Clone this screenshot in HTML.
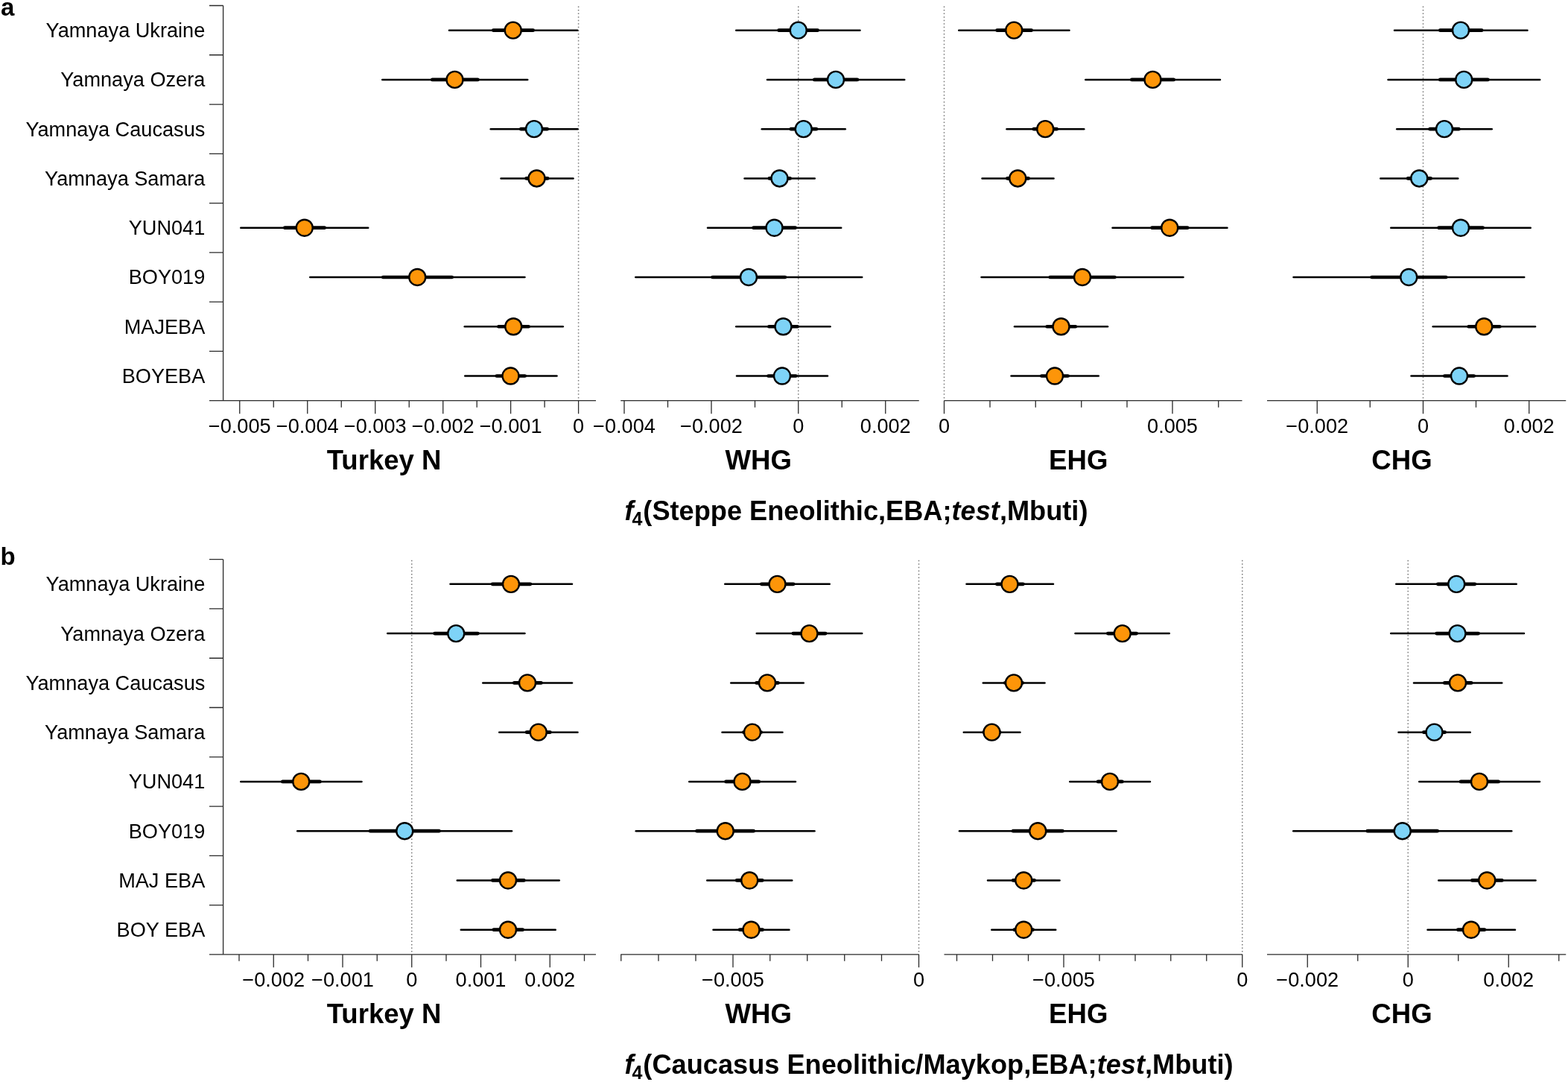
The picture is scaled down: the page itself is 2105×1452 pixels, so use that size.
<!DOCTYPE html>
<html lang="en"><head><meta charset="utf-8"><title>f4 statistics</title>
<style>html,body{margin:0;padding:0;background:#fff}svg{display:block}text{font-family:"Liberation Sans",Arial,Helvetica,sans-serif;fill:#000}.yl{font-size:27.15px;text-anchor:end}.tl{font-size:27.15px;text-anchor:middle}.pt{font-size:36.6px;font-weight:bold;text-anchor:middle}.tt{font-size:36.2px;font-weight:bold}.lt{font-size:33px;font-weight:bold}.ax{stroke:#2a2a2a;stroke-width:1.3;fill:none}.dot{stroke:#777;stroke-width:1.5;stroke-dasharray:1.5 3.06;fill:none}.tn{stroke:#000;stroke-width:2.5;stroke-linecap:round}.tk{stroke:#000;stroke-width:4.7;stroke-linecap:round}.c{stroke:#000;stroke-width:2.4}</style></head><body>
<svg width="2105" height="1452" viewBox="0 0 2105 1452">
<rect width="2105" height="1452" fill="#fff"/>
<g id="panel-a">
<text class="lt" x="1" y="20.6">a</text>
<path class="ax" d="M299.6 7.50V537.66M281 7.50H299.6M281 73.77H299.6M281 140.04H299.6M281 206.31H299.6M281 272.58H299.6M281 338.85H299.6M281 405.12H299.6M281 471.39H299.6"/>
<text class="yl" x="275.3" y="50.13">Yamnaya Ukraine</text>
<text class="yl" x="275.3" y="116.41">Yamnaya Ozera</text>
<text class="yl" x="275.3" y="182.67">Yamnaya Caucasus</text>
<text class="yl" x="275.3" y="248.94">Yamnaya Samara</text>
<text class="yl" x="275.3" y="315.21">YUN041</text>
<text class="yl" x="275.3" y="381.48">BOY019</text>
<text class="yl" x="275.3" y="447.75">MAJEBA</text>
<text class="yl" x="275.3" y="514.02">BOYEBA</text>
<line class="dot" x1="776.6" y1="8.50" x2="776.6" y2="537.66"/>
<path class="ax" d="M281 537.66H800M321.75 537.66v17.5M412.75 537.66v17.5M503.75 537.66v17.5M594.75 537.66v17.5M685.6 537.66v17.5M776.6 537.66v17.5M367.25 537.66v9M458.25 537.66v9M549.25 537.66v9M640.2 537.66v9M731.1 537.66v9"/>
<text class="tl" x="321.75" y="580.66">−0.005</text>
<text class="tl" x="412.75" y="580.66">−0.004</text>
<text class="tl" x="503.75" y="580.66">−0.003</text>
<text class="tl" x="594.75" y="580.66">−0.002</text>
<text class="tl" x="685.6" y="580.66">−0.001</text>
<text class="tl" x="776.6" y="580.66">0</text>
<text class="pt" x="515.6" y="629.96">Turkey N</text>
<line class="tn" x1="603.00" y1="40.63" x2="775.25" y2="40.63"/>
<line class="tk" x1="662.35" y1="40.63" x2="715.65" y2="40.63"/>
<circle class="c" cx="688.75" cy="40.63" r="11" fill="#FD9509"/>
<line class="tn" x1="513.25" y1="106.91" x2="708.25" y2="106.91"/>
<line class="tk" x1="580.35" y1="106.91" x2="641.40" y2="106.91"/>
<circle class="c" cx="610.50" cy="106.91" r="11" fill="#FD9509"/>
<line class="tn" x1="658.75" y1="173.17" x2="775.50" y2="173.17"/>
<line class="tk" x1="699.35" y1="173.17" x2="734.65" y2="173.17"/>
<circle class="c" cx="717.00" cy="173.17" r="11" fill="#7ED3F7"/>
<line class="tn" x1="672.50" y1="239.44" x2="769.50" y2="239.44"/>
<line class="tk" x1="706.60" y1="239.44" x2="735.15" y2="239.44"/>
<circle class="c" cx="720.50" cy="239.44" r="11" fill="#FD9509"/>
<line class="tn" x1="323.25" y1="305.71" x2="494.25" y2="305.71"/>
<line class="tk" x1="382.35" y1="305.71" x2="435.65" y2="305.71"/>
<circle class="c" cx="408.75" cy="305.71" r="11" fill="#FD9509"/>
<line class="tn" x1="416.25" y1="371.98" x2="704.50" y2="371.98"/>
<line class="tk" x1="514.35" y1="371.98" x2="606.65" y2="371.98"/>
<circle class="c" cx="560.25" cy="371.98" r="11" fill="#FD9509"/>
<line class="tn" x1="623.75" y1="438.25" x2="755.75" y2="438.25"/>
<line class="tk" x1="669.35" y1="438.25" x2="709.65" y2="438.25"/>
<circle class="c" cx="689.25" cy="438.25" r="11" fill="#FD9509"/>
<line class="tn" x1="624.25" y1="504.52" x2="747.50" y2="504.52"/>
<line class="tk" x1="666.85" y1="504.52" x2="704.65" y2="504.52"/>
<circle class="c" cx="685.50" cy="504.52" r="11" fill="#FD9509"/>
<line class="dot" x1="1071.75" y1="8.50" x2="1071.75" y2="537.66"/>
<path class="ax" d="M833.25 537.66H1233.75M838 537.66v17.5M955 537.66v17.5M1071.75 537.66v17.5M1188.75 537.66v17.5M896.5 537.66v9M1013.5 537.66v9M1130.25 537.66v9"/>
<text class="tl" x="838" y="580.66">−0.004</text>
<text class="tl" x="955" y="580.66">−0.002</text>
<text class="tl" x="1071.75" y="580.66">0</text>
<text class="tl" x="1188.75" y="580.66">0.002</text>
<text class="pt" x="1018.3" y="629.96">WHG</text>
<line class="tn" x1="988.25" y1="40.63" x2="1154.50" y2="40.63"/>
<line class="tk" x1="1045.60" y1="40.63" x2="1097.65" y2="40.63"/>
<circle class="c" cx="1071.75" cy="40.63" r="11" fill="#7ED3F7"/>
<line class="tn" x1="1030.00" y1="106.91" x2="1214.25" y2="106.91"/>
<line class="tk" x1="1093.35" y1="106.91" x2="1150.90" y2="106.91"/>
<circle class="c" cx="1122.00" cy="106.91" r="11" fill="#7ED3F7"/>
<line class="tn" x1="1022.75" y1="173.17" x2="1134.75" y2="173.17"/>
<line class="tk" x1="1061.85" y1="173.17" x2="1095.90" y2="173.17"/>
<circle class="c" cx="1078.75" cy="173.17" r="11" fill="#7ED3F7"/>
<line class="tn" x1="999.50" y1="239.44" x2="1093.75" y2="239.44"/>
<line class="tk" x1="1032.85" y1="239.44" x2="1060.65" y2="239.44"/>
<circle class="c" cx="1046.50" cy="239.44" r="11" fill="#7ED3F7"/>
<line class="tn" x1="950.00" y1="305.71" x2="1129.25" y2="305.71"/>
<line class="tk" x1="1011.60" y1="305.71" x2="1067.65" y2="305.71"/>
<circle class="c" cx="1039.50" cy="305.71" r="11" fill="#7ED3F7"/>
<line class="tn" x1="853.25" y1="371.98" x2="1157.25" y2="371.98"/>
<line class="tk" x1="956.60" y1="371.98" x2="1053.90" y2="371.98"/>
<circle class="c" cx="1005.00" cy="371.98" r="11" fill="#7ED3F7"/>
<line class="tn" x1="988.25" y1="438.25" x2="1114.50" y2="438.25"/>
<line class="tk" x1="1032.35" y1="438.25" x2="1070.65" y2="438.25"/>
<circle class="c" cx="1051.50" cy="438.25" r="11" fill="#7ED3F7"/>
<line class="tn" x1="989.00" y1="504.52" x2="1111.00" y2="504.52"/>
<line class="tk" x1="1031.60" y1="504.52" x2="1068.40" y2="504.52"/>
<circle class="c" cx="1050.00" cy="504.52" r="11" fill="#7ED3F7"/>
<line class="dot" x1="1267.5" y1="8.50" x2="1267.5" y2="537.66"/>
<path class="ax" d="M1267.5 537.66H1667.5M1267.5 537.66v17.5M1574 537.66v17.5M1329 537.66v9M1390.25 537.66v9M1451.75 537.66v9M1513 537.66v9M1635.75 537.66v9"/>
<text class="tl" x="1267.5" y="580.66">0</text>
<text class="tl" x="1574" y="580.66">0.005</text>
<text class="pt" x="1447.75" y="629.96">EHG</text>
<line class="tn" x1="1287.25" y1="40.63" x2="1435.50" y2="40.63"/>
<line class="tk" x1="1338.60" y1="40.63" x2="1384.65" y2="40.63"/>
<circle class="c" cx="1361.25" cy="40.63" r="11" fill="#FD9509"/>
<line class="tn" x1="1457.25" y1="106.91" x2="1638.00" y2="106.91"/>
<line class="tk" x1="1519.35" y1="106.91" x2="1575.65" y2="106.91"/>
<circle class="c" cx="1547.50" cy="106.91" r="11" fill="#FD9509"/>
<line class="tn" x1="1351.50" y1="173.17" x2="1455.25" y2="173.17"/>
<line class="tk" x1="1387.85" y1="173.17" x2="1418.65" y2="173.17"/>
<circle class="c" cx="1403.25" cy="173.17" r="11" fill="#FD9509"/>
<line class="tn" x1="1318.50" y1="239.44" x2="1414.50" y2="239.44"/>
<line class="tk" x1="1352.35" y1="239.44" x2="1380.65" y2="239.44"/>
<circle class="c" cx="1366.25" cy="239.44" r="11" fill="#FD9509"/>
<line class="tn" x1="1493.50" y1="305.71" x2="1647.50" y2="305.71"/>
<line class="tk" x1="1546.60" y1="305.71" x2="1594.15" y2="305.71"/>
<circle class="c" cx="1570.25" cy="305.71" r="11" fill="#FD9509"/>
<line class="tn" x1="1317.50" y1="371.98" x2="1588.50" y2="371.98"/>
<line class="tk" x1="1409.85" y1="371.98" x2="1496.40" y2="371.98"/>
<circle class="c" cx="1453.00" cy="371.98" r="11" fill="#FD9509"/>
<line class="tn" x1="1362.00" y1="438.25" x2="1487.00" y2="438.25"/>
<line class="tk" x1="1405.60" y1="438.25" x2="1443.90" y2="438.25"/>
<circle class="c" cx="1424.50" cy="438.25" r="11" fill="#FD9509"/>
<line class="tn" x1="1357.50" y1="504.52" x2="1474.75" y2="504.52"/>
<line class="tk" x1="1398.35" y1="504.52" x2="1433.65" y2="504.52"/>
<circle class="c" cx="1416.00" cy="504.52" r="11" fill="#FD9509"/>
<line class="dot" x1="1910.5" y1="8.50" x2="1910.5" y2="537.66"/>
<path class="ax" d="M1701 537.66H2102.25M1768.25 537.66v17.5M1910.5 537.66v17.5M2052.75 537.66v17.5M1839.25 537.66v9M1981.5 537.66v9"/>
<text class="tl" x="1768.25" y="580.66">−0.002</text>
<text class="tl" x="1910.5" y="580.66">0</text>
<text class="tl" x="2052.75" y="580.66">0.002</text>
<text class="pt" x="1882" y="629.96">CHG</text>
<line class="tn" x1="1872.00" y1="40.63" x2="2050.50" y2="40.63"/>
<line class="tk" x1="1933.35" y1="40.63" x2="1989.15" y2="40.63"/>
<circle class="c" cx="1961.00" cy="40.63" r="11" fill="#7ED3F7"/>
<line class="tn" x1="1863.50" y1="106.91" x2="2067.25" y2="106.91"/>
<line class="tk" x1="1933.35" y1="106.91" x2="1997.40" y2="106.91"/>
<circle class="c" cx="1965.25" cy="106.91" r="11" fill="#7ED3F7"/>
<line class="tn" x1="1875.25" y1="173.17" x2="2002.75" y2="173.17"/>
<line class="tk" x1="1919.60" y1="173.17" x2="1958.40" y2="173.17"/>
<circle class="c" cx="1939.00" cy="173.17" r="11" fill="#7ED3F7"/>
<line class="tn" x1="1853.25" y1="239.44" x2="1957.25" y2="239.44"/>
<line class="tk" x1="1890.10" y1="239.44" x2="1920.65" y2="239.44"/>
<circle class="c" cx="1905.25" cy="239.44" r="11" fill="#7ED3F7"/>
<line class="tn" x1="1867.25" y1="305.71" x2="2054.75" y2="305.71"/>
<line class="tk" x1="1931.60" y1="305.71" x2="1990.65" y2="305.71"/>
<circle class="c" cx="1961.00" cy="305.71" r="11" fill="#7ED3F7"/>
<line class="tn" x1="1736.50" y1="371.98" x2="2046.25" y2="371.98"/>
<line class="tk" x1="1841.60" y1="371.98" x2="1941.15" y2="371.98"/>
<circle class="c" cx="1891.25" cy="371.98" r="11" fill="#7ED3F7"/>
<line class="tn" x1="1923.75" y1="438.25" x2="2061.00" y2="438.25"/>
<line class="tk" x1="1971.60" y1="438.25" x2="2013.40" y2="438.25"/>
<circle class="c" cx="1992.25" cy="438.25" r="11" fill="#FD9509"/>
<line class="tn" x1="1894.50" y1="504.52" x2="2023.50" y2="504.52"/>
<line class="tk" x1="1939.35" y1="504.52" x2="1978.65" y2="504.52"/>
<circle class="c" cx="1959.00" cy="504.52" r="11" fill="#7ED3F7"/>
<text class="tt" x="838.6" y="697.60"><tspan font-style="italic">f</tspan><tspan font-size="25" dx="-2.2" dy="7.8">4</tspan><tspan dx="1" dy="-7.8">(Steppe Eneolithic,EBA;</tspan><tspan font-style="italic">test</tspan><tspan>,Mbuti)</tspan></text>
</g>
<g id="panel-b">
<text class="lt" x="0.5" y="757.6">b</text>
<path class="ax" d="M299.6 750.70V1280.86M281 750.70H299.6M281 816.97H299.6M281 883.24H299.6M281 949.51H299.6M281 1015.78H299.6M281 1082.05H299.6M281 1148.32H299.6M281 1214.59H299.6"/>
<text class="yl" x="275.3" y="793.34">Yamnaya Ukraine</text>
<text class="yl" x="275.3" y="859.61">Yamnaya Ozera</text>
<text class="yl" x="275.3" y="925.88">Yamnaya Caucasus</text>
<text class="yl" x="275.3" y="992.14">Yamnaya Samara</text>
<text class="yl" x="275.3" y="1058.41">YUN041</text>
<text class="yl" x="275.3" y="1124.68">BOY019</text>
<text class="yl" x="275.3" y="1190.95">MAJ EBA</text>
<text class="yl" x="275.3" y="1257.22">BOY EBA</text>
<line class="dot" x1="552.75" y1="751.70" x2="552.75" y2="1280.86"/>
<path class="ax" d="M281 1280.86H800M367.25 1280.86v17.5M460 1280.86v17.5M552.75 1280.86v17.5M645.5 1280.86v17.5M738.25 1280.86v17.5M321 1280.86v9M413.5 1280.86v9M506.25 1280.86v9M599 1280.86v9M692 1280.86v9M784.5 1280.86v9"/>
<text class="tl" x="367.25" y="1323.86">−0.002</text>
<text class="tl" x="460" y="1323.86">−0.001</text>
<text class="tl" x="552.75" y="1323.86">0</text>
<text class="tl" x="645.5" y="1323.86">0.001</text>
<text class="tl" x="738.25" y="1323.86">0.002</text>
<text class="pt" x="515.6" y="1373.16">Turkey N</text>
<line class="tn" x1="604.50" y1="783.84" x2="768.00" y2="783.84"/>
<line class="tk" x1="661.10" y1="783.84" x2="711.90" y2="783.84"/>
<circle class="c" cx="686.00" cy="783.84" r="11" fill="#FD9509"/>
<line class="tn" x1="520.25" y1="850.11" x2="704.50" y2="850.11"/>
<line class="tk" x1="583.60" y1="850.11" x2="641.40" y2="850.11"/>
<circle class="c" cx="612.25" cy="850.11" r="11" fill="#7ED3F7"/>
<line class="tn" x1="648.25" y1="916.38" x2="768.00" y2="916.38"/>
<line class="tk" x1="690.35" y1="916.38" x2="726.40" y2="916.38"/>
<circle class="c" cx="708.00" cy="916.38" r="11" fill="#FD9509"/>
<line class="tn" x1="670.25" y1="982.64" x2="775.50" y2="982.64"/>
<line class="tk" x1="707.10" y1="982.64" x2="738.40" y2="982.64"/>
<circle class="c" cx="722.75" cy="982.64" r="11" fill="#FD9509"/>
<line class="tn" x1="323.25" y1="1048.91" x2="485.50" y2="1048.91"/>
<line class="tk" x1="379.35" y1="1048.91" x2="429.40" y2="1048.91"/>
<circle class="c" cx="404.25" cy="1048.91" r="11" fill="#FD9509"/>
<line class="tn" x1="399.25" y1="1115.18" x2="687.00" y2="1115.18"/>
<line class="tk" x1="497.10" y1="1115.18" x2="589.40" y2="1115.18"/>
<circle class="c" cx="543.25" cy="1115.18" r="11" fill="#7ED3F7"/>
<line class="tn" x1="613.75" y1="1181.45" x2="750.75" y2="1181.45"/>
<line class="tk" x1="661.35" y1="1181.45" x2="703.40" y2="1181.45"/>
<circle class="c" cx="682.00" cy="1181.45" r="11" fill="#FD9509"/>
<line class="tn" x1="618.75" y1="1247.72" x2="745.75" y2="1247.72"/>
<line class="tk" x1="662.85" y1="1247.72" x2="701.65" y2="1247.72"/>
<circle class="c" cx="682.00" cy="1247.72" r="11" fill="#FD9509"/>
<line class="dot" x1="1233.5" y1="751.70" x2="1233.5" y2="1280.86"/>
<path class="ax" d="M833.25 1280.86H1233.75M984 1280.86v17.5M1233.5 1280.86v17.5M833.75 1280.86v9M884 1280.86v9M934 1280.86v9M1033.75 1280.86v9M1083.75 1280.86v9M1133.75 1280.86v9M1183.5 1280.86v9"/>
<text class="tl" x="984" y="1323.86">−0.005</text>
<text class="tl" x="1233.5" y="1323.86">0</text>
<text class="pt" x="1018.3" y="1373.16">WHG</text>
<line class="tn" x1="973.25" y1="783.84" x2="1113.75" y2="783.84"/>
<line class="tk" x1="1022.35" y1="783.84" x2="1065.15" y2="783.84"/>
<circle class="c" cx="1043.50" cy="783.84" r="11" fill="#FD9509"/>
<line class="tn" x1="1015.75" y1="850.11" x2="1157.25" y2="850.11"/>
<line class="tk" x1="1064.85" y1="850.11" x2="1108.15" y2="850.11"/>
<circle class="c" cx="1086.50" cy="850.11" r="11" fill="#FD9509"/>
<line class="tn" x1="981.25" y1="916.38" x2="1078.75" y2="916.38"/>
<line class="tk" x1="1015.60" y1="916.38" x2="1044.40" y2="916.38"/>
<circle class="c" cx="1030.00" cy="916.38" r="11" fill="#FD9509"/>
<line class="tn" x1="969.50" y1="982.64" x2="1050.50" y2="982.64"/>
<line class="tk" x1="998.35" y1="982.64" x2="1021.65" y2="982.64"/>
<circle class="c" cx="1010.00" cy="982.64" r="11" fill="#FD9509"/>
<line class="tn" x1="925.25" y1="1048.91" x2="1068.00" y2="1048.91"/>
<line class="tk" x1="974.60" y1="1048.91" x2="1018.65" y2="1048.91"/>
<circle class="c" cx="996.50" cy="1048.91" r="11" fill="#FD9509"/>
<line class="tn" x1="853.75" y1="1115.18" x2="1093.50" y2="1115.18"/>
<line class="tk" x1="935.60" y1="1115.18" x2="1011.65" y2="1115.18"/>
<circle class="c" cx="973.75" cy="1115.18" r="11" fill="#FD9509"/>
<line class="tn" x1="949.25" y1="1181.45" x2="1063.25" y2="1181.45"/>
<line class="tk" x1="989.10" y1="1181.45" x2="1023.40" y2="1181.45"/>
<circle class="c" cx="1006.25" cy="1181.45" r="11" fill="#FD9509"/>
<line class="tn" x1="957.50" y1="1247.72" x2="1059.50" y2="1247.72"/>
<line class="tk" x1="993.10" y1="1247.72" x2="1023.65" y2="1247.72"/>
<circle class="c" cx="1008.50" cy="1247.72" r="11" fill="#FD9509"/>
<line class="dot" x1="1667.75" y1="751.70" x2="1667.75" y2="1280.86"/>
<path class="ax" d="M1267.5 1280.86H1668M1428 1280.86v17.5M1667.75 1280.86v17.5M1284.5 1280.86v9M1332.5 1280.86v9M1380.5 1280.86v9M1476 1280.86v9M1524 1280.86v9M1571.75 1280.86v9M1619.75 1280.86v9"/>
<text class="tl" x="1428" y="1323.86">−0.005</text>
<text class="tl" x="1667.75" y="1323.86">0</text>
<text class="pt" x="1447.75" y="1373.16">EHG</text>
<line class="tn" x1="1297.50" y1="783.84" x2="1414.00" y2="783.84"/>
<line class="tk" x1="1338.35" y1="783.84" x2="1373.40" y2="783.84"/>
<circle class="c" cx="1355.50" cy="783.84" r="11" fill="#FD9509"/>
<line class="tn" x1="1443.50" y1="850.11" x2="1569.75" y2="850.11"/>
<line class="tk" x1="1487.35" y1="850.11" x2="1525.65" y2="850.11"/>
<circle class="c" cx="1506.75" cy="850.11" r="11" fill="#FD9509"/>
<line class="tn" x1="1319.75" y1="916.38" x2="1402.50" y2="916.38"/>
<line class="tk" x1="1349.35" y1="916.38" x2="1372.65" y2="916.38"/>
<circle class="c" cx="1361.00" cy="916.38" r="11" fill="#FD9509"/>
<line class="tn" x1="1293.75" y1="982.64" x2="1369.50" y2="982.64"/>
<line class="tk" x1="1320.85" y1="982.64" x2="1342.15" y2="982.64"/>
<circle class="c" cx="1331.50" cy="982.64" r="11" fill="#FD9509"/>
<line class="tn" x1="1436.25" y1="1048.91" x2="1544.00" y2="1048.91"/>
<line class="tk" x1="1474.10" y1="1048.91" x2="1506.40" y2="1048.91"/>
<circle class="c" cx="1490.00" cy="1048.91" r="11" fill="#FD9509"/>
<line class="tn" x1="1288.00" y1="1115.18" x2="1498.50" y2="1115.18"/>
<line class="tk" x1="1360.10" y1="1115.18" x2="1426.40" y2="1115.18"/>
<circle class="c" cx="1393.25" cy="1115.18" r="11" fill="#FD9509"/>
<line class="tn" x1="1326.00" y1="1181.45" x2="1422.50" y2="1181.45"/>
<line class="tk" x1="1360.10" y1="1181.45" x2="1388.65" y2="1181.45"/>
<circle class="c" cx="1374.25" cy="1181.45" r="11" fill="#FD9509"/>
<line class="tn" x1="1331.25" y1="1247.72" x2="1417.25" y2="1247.72"/>
<line class="tk" x1="1361.85" y1="1247.72" x2="1386.65" y2="1247.72"/>
<circle class="c" cx="1374.25" cy="1247.72" r="11" fill="#FD9509"/>
<line class="dot" x1="1890.25" y1="751.70" x2="1890.25" y2="1280.86"/>
<path class="ax" d="M1701 1280.86H2102.25M1755.25 1280.86v17.5M1890.25 1280.86v17.5M2025.25 1280.86v17.5M1822.75 1280.86v9M1957.75 1280.86v9M2092.75 1280.86v9"/>
<text class="tl" x="1755.25" y="1323.86">−0.002</text>
<text class="tl" x="1890.25" y="1323.86">0</text>
<text class="tl" x="2025.25" y="1323.86">0.002</text>
<text class="pt" x="1882" y="1373.16">CHG</text>
<line class="tn" x1="1874.25" y1="783.84" x2="2035.75" y2="783.84"/>
<line class="tk" x1="1930.35" y1="783.84" x2="1979.90" y2="783.84"/>
<circle class="c" cx="1955.25" cy="783.84" r="11" fill="#7ED3F7"/>
<line class="tn" x1="1867.25" y1="850.11" x2="2046.00" y2="850.11"/>
<line class="tk" x1="1928.60" y1="850.11" x2="1984.65" y2="850.11"/>
<circle class="c" cx="1956.50" cy="850.11" r="11" fill="#7ED3F7"/>
<line class="tn" x1="1898.00" y1="916.38" x2="2016.25" y2="916.38"/>
<line class="tk" x1="1939.35" y1="916.38" x2="1975.15" y2="916.38"/>
<circle class="c" cx="1957.00" cy="916.38" r="11" fill="#FD9509"/>
<line class="tn" x1="1877.50" y1="982.64" x2="1973.75" y2="982.64"/>
<line class="tk" x1="1911.35" y1="982.64" x2="1939.65" y2="982.64"/>
<circle class="c" cx="1925.50" cy="982.64" r="11" fill="#7ED3F7"/>
<line class="tn" x1="1905.25" y1="1048.91" x2="2067.00" y2="1048.91"/>
<line class="tk" x1="1961.10" y1="1048.91" x2="2011.65" y2="1048.91"/>
<circle class="c" cx="1986.00" cy="1048.91" r="11" fill="#FD9509"/>
<line class="tn" x1="1736.25" y1="1115.18" x2="2029.25" y2="1115.18"/>
<line class="tk" x1="1835.85" y1="1115.18" x2="1929.65" y2="1115.18"/>
<circle class="c" cx="1882.75" cy="1115.18" r="11" fill="#7ED3F7"/>
<line class="tn" x1="1931.25" y1="1181.45" x2="2061.50" y2="1181.45"/>
<line class="tk" x1="1976.35" y1="1181.45" x2="2016.40" y2="1181.45"/>
<circle class="c" cx="1996.25" cy="1181.45" r="11" fill="#FD9509"/>
<line class="tn" x1="1916.50" y1="1247.72" x2="2034.00" y2="1247.72"/>
<line class="tk" x1="1957.35" y1="1247.72" x2="1992.90" y2="1247.72"/>
<circle class="c" cx="1975.00" cy="1247.72" r="11" fill="#FD9509"/>
<text class="tt" x="838.6" y="1440.60"><tspan font-style="italic">f</tspan><tspan font-size="25" dx="-2.2" dy="7.8">4</tspan><tspan dx="1" dy="-7.8">(Caucasus Eneolithic/Maykop,EBA;</tspan><tspan font-style="italic">test</tspan><tspan>,Mbuti)</tspan></text>
</g>
</svg></body></html>
